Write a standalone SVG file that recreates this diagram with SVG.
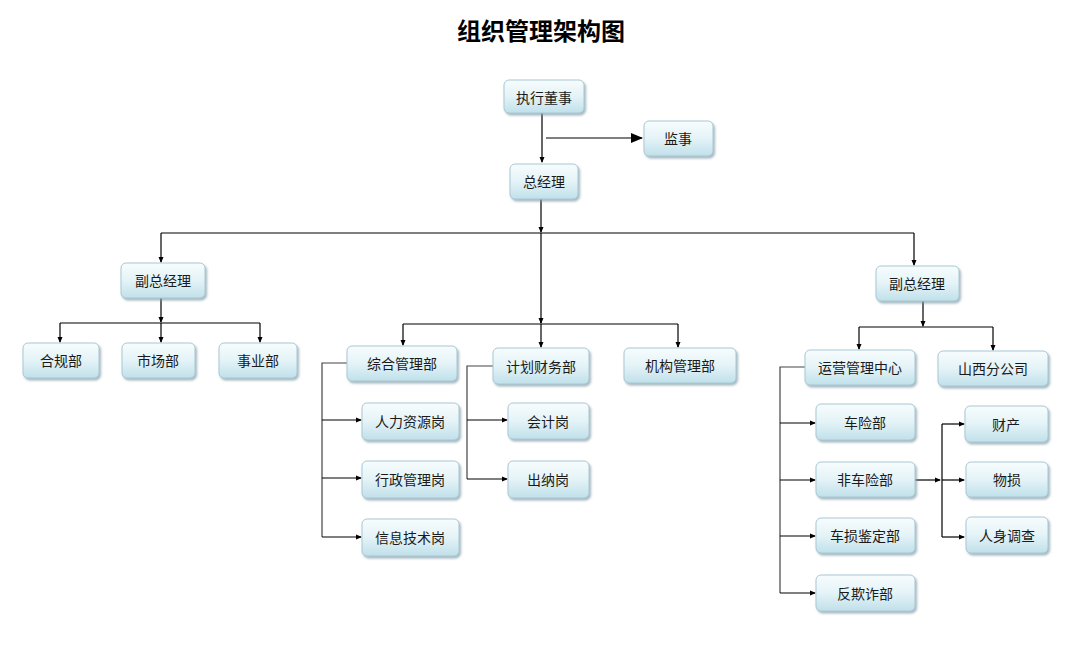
<svg xmlns="http://www.w3.org/2000/svg" width="1074" height="647" viewBox="0 0 1074 647">
<defs>
<linearGradient id="g" x1="0" y1="0" x2="0" y2="1">
<stop offset="0" stop-color="#f7fcfd"/>
<stop offset="0.5" stop-color="#e4f3f7"/>
<stop offset="1" stop-color="#c0e0ea"/>
</linearGradient>
<filter id="sh" x="-10%" y="-10%" width="130%" height="140%">
<feDropShadow dx="1.5" dy="2" stdDeviation="1" flood-color="#7f9aa6" flood-opacity="0.7"/>
</filter>
<marker id="a" markerWidth="6" markerHeight="6" refX="5" refY="3" orient="auto" markerUnits="userSpaceOnUse">
<path d="M0,0.5 L6,3 L0,5.5 Z" fill="#000"/>
</marker>
<marker id="ab" markerWidth="12" markerHeight="10" refX="11" refY="5" orient="auto" markerUnits="userSpaceOnUse">
<path d="M0,0 L12,5 L0,10 Z" fill="#000"/>
</marker>
</defs>
<style>
.b{fill:url(#g);stroke:#a9c8d3;stroke-width:1;filter:url(#sh)}
.t{font-family:"Noto Sans CJK SC","Noto Sans",sans-serif;font-size:14px;fill:#1a1a1a;text-anchor:middle;dominant-baseline:central}
.c{fill:none;stroke:#000;stroke-width:1.2}
.title{font-family:"Noto Sans CJK SC","Noto Sans",sans-serif;font-size:24px;font-weight:bold;fill:#000;text-anchor:middle}
</style>
<rect width="1074" height="647" fill="#fff"/>
<text class="title" x="541" y="40">组织管理架构图</text>

<g id="connectors">
<path class="c" d="M542,113 V162" marker-end="url(#a)"/>
<path class="c" d="M546,138 H642" marker-end="url(#ab)"/>
<path class="c" d="M541,199 V232" marker-end="url(#a)"/>
<path class="c" d="M541,233 V323"/>
<path class="c" d="M161,233 H914"/>
<path class="c" d="M161,233 V262" marker-end="url(#a)"/>
<path class="c" d="M914,233 V265" marker-end="url(#a)"/>
<path class="c" d="M161,298 V322" marker-end="url(#a)"/>
<path class="c" d="M60,323 H260"/>
<path class="c" d="M60,323 V342" marker-end="url(#a)"/>
<path class="c" d="M161,323 V342" marker-end="url(#a)"/>
<path class="c" d="M260,323 V342" marker-end="url(#a)"/>
<path class="c" d="M403,324 H678"/>
<path class="c" d="M541,318 V323" marker-end="url(#a)"/>
<path class="c" d="M403,324 V345" marker-end="url(#a)"/>
<path class="c" d="M541,324 V347" marker-end="url(#a)"/>
<path class="c" d="M678,324 V347" marker-end="url(#a)"/>
<path class="c" d="M347,363 H322 V537" style="stroke:#444"/>
<path class="c" d="M322,420 H361" marker-end="url(#a)"/>
<path class="c" d="M322,478 H361" marker-end="url(#a)"/>
<path class="c" d="M322,537 H361" marker-end="url(#a)"/>
<path class="c" d="M493,366 H467 V479" style="stroke:#444"/>
<path class="c" d="M467,420 H507" marker-end="url(#a)"/>
<path class="c" d="M467,479 H507" marker-end="url(#a)"/>
<path class="c" d="M923,301 V326" marker-end="url(#a)"/>
<path class="c" d="M859,327 H993"/>
<path class="c" d="M859,327 V349" marker-end="url(#a)"/>
<path class="c" d="M993,327 V350" marker-end="url(#a)"/>
<path class="c" d="M805,367 H780 V593" style="stroke:#444"/>
<path class="c" d="M780,423 H815" marker-end="url(#a)"/>
<path class="c" d="M780,480 H815" marker-end="url(#a)"/>
<path class="c" d="M780,536 H815" marker-end="url(#a)"/>
<path class="c" d="M780,593 H815" marker-end="url(#a)"/>
<path class="c" d="M915,480 H940" marker-end="url(#a)"/>
<path class="c" d="M942,424 V537"/>
<path class="c" d="M942,424 H964" marker-end="url(#a)"/>
<path class="c" d="M942,480 H964" marker-end="url(#a)"/>
<path class="c" d="M942,537 H964" marker-end="url(#a)"/>
</g>

<g id="n-ceo"><rect class="b" x="504" y="80" width="80" height="33" rx="5"/><text class="t" x="544" y="97">执行董事</text></g>
<g id="n-supervisor"><rect class="b" x="644" y="121" width="69" height="35" rx="5"/><text class="t" x="678" y="138">监事</text></g>
<g id="n-gm"><rect class="b" x="510" y="164" width="68" height="35" rx="5"/><text class="t" x="544" y="181">总经理</text></g>
<g id="n-vp1"><rect class="b" x="121" y="263" width="84" height="35" rx="5"/><text class="t" x="163" y="280">副总经理</text></g>
<g id="n-hegui"><rect class="b" x="23" y="343" width="76" height="35" rx="5"/><text class="t" x="61" y="360">合规部</text></g>
<g id="n-shichang"><rect class="b" x="122" y="343" width="73" height="35" rx="5"/><text class="t" x="158" y="360">市场部</text></g>
<g id="n-shiye"><rect class="b" x="219" y="343" width="78" height="35" rx="5"/><text class="t" x="258" y="360">事业部</text></g>
<g id="n-zonghe"><rect class="b" x="347" y="346" width="110" height="35" rx="5"/><text class="t" x="402" y="363">综合管理部</text></g>
<g id="n-renli"><rect class="b" x="362" y="403" width="97" height="37" rx="5"/><text class="t" x="410" y="421">人力资源岗</text></g>
<g id="n-xingzheng"><rect class="b" x="362" y="461" width="97" height="37" rx="5"/><text class="t" x="410" y="479">行政管理岗</text></g>
<g id="n-xinxi"><rect class="b" x="362" y="519" width="97" height="37" rx="5"/><text class="t" x="410" y="537">信息技术岗</text></g>
<g id="n-caiwu"><rect class="b" x="493" y="348" width="96" height="36" rx="5"/><text class="t" x="541" y="366">计划财务部</text></g>
<g id="n-kuaiji"><rect class="b" x="508" y="403" width="81" height="36" rx="5"/><text class="t" x="548" y="421">会计岗</text></g>
<g id="n-chuna"><rect class="b" x="508" y="461" width="81" height="37" rx="5"/><text class="t" x="548" y="479">出纳岗</text></g>
<g id="n-jigou"><rect class="b" x="624" y="348" width="112" height="35" rx="5"/><text class="t" x="680" y="365">机构管理部</text></g>
<g id="n-vp2"><rect class="b" x="876" y="266" width="83" height="35" rx="5"/><text class="t" x="917" y="283">副总经理</text></g>
<g id="n-yunying"><rect class="b" x="805" y="350" width="110" height="35" rx="5"/><text class="t" x="860" y="367">运营管理中心</text></g>
<g id="n-shanxi"><rect class="b" x="938" y="351" width="110" height="35" rx="5"/><text class="t" x="993" y="368">山西分公司</text></g>
<g id="n-chexian"><rect class="b" x="816" y="404" width="99" height="36" rx="5"/><text class="t" x="865" y="422">车险部</text></g>
<g id="n-feichexian"><rect class="b" x="816" y="462" width="99" height="35" rx="5"/><text class="t" x="865" y="479">非车险部</text></g>
<g id="n-chesun"><rect class="b" x="816" y="518" width="99" height="35" rx="5"/><text class="t" x="865" y="535">车损鉴定部</text></g>
<g id="n-fanqizha"><rect class="b" x="816" y="575" width="99" height="36" rx="5"/><text class="t" x="865" y="593">反欺诈部</text></g>
<g id="n-caichan"><rect class="b" x="965" y="406" width="83" height="36" rx="5"/><text class="t" x="1006" y="424">财产</text></g>
<g id="n-wusun"><rect class="b" x="966" y="462" width="82" height="35" rx="5"/><text class="t" x="1007" y="479">物损</text></g>
<g id="n-renshen"><rect class="b" x="966" y="517" width="82" height="36" rx="5"/><text class="t" x="1007" y="535">人身调查</text></g>
</svg>
